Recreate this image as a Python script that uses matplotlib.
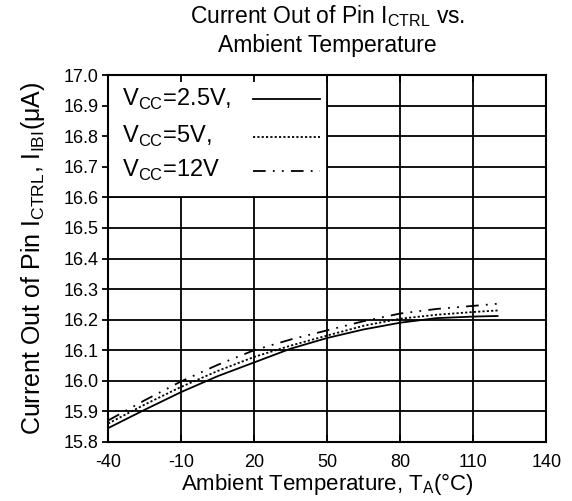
import numpy as np
import matplotlib.pyplot as plt
from matplotlib.patches import Rectangle

plt.rcParams['font.family'] = ['Liberation Sans', 'DejaVu Sans']
plt.rcParams['mathtext.fontset'] = 'custom'
plt.rcParams['mathtext.rm'] = 'Liberation Sans'
plt.rcParams['axes.unicode_minus'] = False

# data
temp = [-40, -25, -10, 5, 20, 35, 50, 65, 80, 95, 110, 120]
i_2v5 = [15.845, 15.905, 15.963, 16.015, 16.060, 16.105, 16.140, 16.168, 16.190, 16.205, 16.210, 16.212]
i_5v = [15.860, 15.922, 15.980, 16.032, 16.078, 16.115, 16.148, 16.180, 16.203, 16.216, 16.225, 16.230]
i_12v = [15.870, 15.936, 15.998, 16.052, 16.100, 16.135, 16.165, 16.195, 16.220, 16.235, 16.245, 16.252]
labels = [r'V$_{\mathregular{CC}}$=2.5V,', r'V$_{\mathregular{CC}}$=5V,', r'V$_{\mathregular{CC}}$=12V']

xticks = [-40, -10, 20, 50, 80, 110, 140]
yticks = np.round(np.arange(15.8, 17.01, 0.1), 1)

fig = plt.figure(figsize=(5.72, 5.01), dpi=100)
ax = fig.add_axes([0.189, 0.118, 0.766, 0.732])

# grid drawn by hand so the legend box can hide it
for x in xticks:
    ax.axvline(x, color='black', lw=1.3, zorder=1)
for y in yticks:
    ax.axhline(y, color='black', lw=1.3, zorder=1)

ax.add_patch(Rectangle((-40, 16.6), 90, 0.4, facecolor='white', edgecolor='black',
                       lw=1.3, zorder=2))

styles = ['-', (0, (1.2, 1.2)), (0, (7, 4, 1, 4, 1, 4))]
series = [i_2v5, i_5v, i_12v]
row_y = [0.935, 0.832, 0.740]
for vals, ls, lab, ry in zip(series, styles, labels, row_y):
    ax.plot(temp, vals, color='black', lw=1.3, ls=ls, zorder=4)
    # legend entry: text on the left, line sample on the right
    ax.text(0.032, ry, lab, transform=ax.transAxes, fontsize=17, va='center', ha='left', zorder=5)
    ax.plot([0.331, 0.484], [ry, ry], transform=ax.transAxes, color='black', lw=1.3, ls=ls, zorder=5)

ax.set_xlim(-40, 140)
ax.set_ylim(15.8, 17.0)
ax.set_xticks(xticks)
ax.set_yticks(yticks)
ax.set_yticklabels([f'{v:.1f}' for v in yticks])
ax.tick_params(axis='both', labelsize=13, length=0)
ax.tick_params(axis='y', direction='out', length=4, width=1.3, pad=3)
ax.tick_params(axis='x', top=True, direction='in', length=5, width=1.3, pad=9)
ax.set_axisbelow(False)
for s in ax.spines.values():
    s.set_linewidth(1.5)

ax.set_title('Current Out of Pin I$_{\\mathregular{CTRL}}$ vs.\nAmbient Temperature',
             fontsize=16.5, linespacing=1.25, pad=17)
ax.set_xlabel('Ambient Temperature, T$_{\\mathregular{A}}$(°C)', fontsize=16, labelpad=0)
ax.set_ylabel('Current Out of Pin I$_{\\mathregular{CTRL}}$, I$_{\\mathregular{IBI}}$(μA)',
              fontsize=18, labelpad=12)

fig.savefig('out.png', dpi=100)
